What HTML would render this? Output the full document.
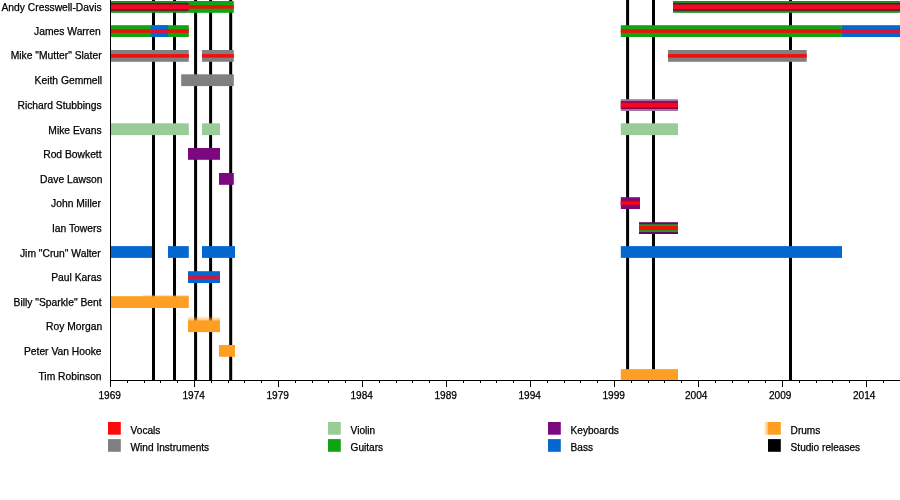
<!DOCTYPE html>
<html lang="en">
<head>
<meta charset="utf-8">
<title>Stackridge timeline</title>
<style>
html,body{margin:0;padding:0;background:#fff;}
svg{display:block;}
text{font-family:"Liberation Sans",Arial,Helvetica,sans-serif;font-size:10.3px;fill:#000;stroke:#000;stroke-width:0.25px;}
.lg{font-size:10.1px;}
.tk{font-size:10.1px;}
</style>
</head>
<body>
<svg width="900" height="500" viewBox="0 0 900 500">
<rect width="900" height="500" fill="#fff"/>
<g fill="#000">
<rect x="152.0" y="0" width="3" height="380.5"/>
<rect x="173.0" y="0" width="3" height="380.5"/>
<rect x="194.1" y="0" width="3" height="380.5"/>
<rect x="209.1" y="0" width="3" height="380.5"/>
<rect x="229.2" y="0" width="3" height="380.5"/>
<rect x="626.1" y="0" width="3" height="380.5"/>
<rect x="652.0" y="0" width="3" height="380.5"/>
<rect x="789.0" y="0" width="3" height="380.5"/>
</g>
<defs>
<linearGradient id="sv" x1="0" y1="0" x2="0" y2="1"><stop offset="0" stop-color="#ffb040" stop-opacity="0"/><stop offset="1" stop-color="#ffa830" stop-opacity="0.75"/></linearGradient>
<linearGradient id="sh" x1="0" y1="0" x2="1" y2="0"><stop offset="0" stop-color="#ffb040" stop-opacity="0"/><stop offset="1" stop-color="#ffa830" stop-opacity="0.8"/></linearGradient>
</defs>
<rect x="188" y="316" width="32" height="4.6" fill="url(#sv)"/>
<rect x="143" y="294.6" width="45.8" height="1.8" fill="url(#sv)"/>
<rect x="763.5" y="422" width="4.7" height="12.7" fill="url(#sh)"/>
<g>
<rect x="110.5" y="1.00" width="78.3" height="11.8" fill="#1f8f22"/>
<rect x="188.8" y="1.00" width="45.0" height="11.8" fill="#0ea412"/>
<rect x="110.5" y="3.00" width="78.3" height="7.8" fill="#5e1628"/>
<rect x="110.5" y="4.50" width="78.7" height="4.8" fill="#fa0426"/>
<rect x="188.8" y="5.15" width="45.0" height="3.5" fill="#ec1208"/>
<rect x="673.0" y="1.00" width="227.0" height="11.8" fill="#1f8f22"/>
<rect x="673.0" y="3.00" width="227.0" height="7.8" fill="#5e1628"/>
<rect x="673.0" y="4.50" width="227.0" height="4.8" fill="#fa0426"/>
<rect x="110.5" y="25.20" width="78.3" height="11.8" fill="#0ea412"/>
<rect x="150.8" y="25.20" width="17.2" height="11.8" fill="#0468d0"/>
<rect x="110.5" y="29.35" width="40.3" height="3.5" fill="#ec1208"/>
<rect x="150.8" y="29.35" width="17.2" height="3.5" fill="#d8143a"/>
<rect x="168.0" y="29.35" width="20.8" height="3.5" fill="#ec1208"/>
<rect x="620.8" y="25.20" width="220.4" height="11.8" fill="#0ea412"/>
<rect x="841.2" y="25.20" width="58.8" height="11.8" fill="#0468d0"/>
<rect x="620.8" y="29.35" width="220.4" height="3.5" fill="#ec1208"/>
<rect x="841.2" y="29.35" width="58.8" height="3.5" fill="#d8143a"/>
<rect x="110.5" y="50.00" width="78.3" height="11.8" fill="#808080"/>
<rect x="110.5" y="54.15" width="78.3" height="3.5" fill="#fa0a0a"/>
<rect x="202.0" y="50.00" width="31.8" height="11.8" fill="#808080"/>
<rect x="202.0" y="54.15" width="31.8" height="3.5" fill="#fa0a0a"/>
<rect x="668.0" y="50.00" width="138.7" height="11.8" fill="#808080"/>
<rect x="668.0" y="54.15" width="138.7" height="3.5" fill="#fa0a0a"/>
<rect x="181.2" y="74.30" width="52.6" height="11.8" fill="#808080"/>
<rect x="620.8" y="99.20" width="57.2" height="11.8" fill="#a173a8"/>
<rect x="620.8" y="101.20" width="57.2" height="7.8" fill="#7a0848"/>
<rect x="620.8" y="102.70" width="57.2" height="4.8" fill="#fa0426"/>
<rect x="110.5" y="123.30" width="78.3" height="11.8" fill="#99cc99"/>
<rect x="202.0" y="123.30" width="18.0" height="11.8" fill="#99cc99"/>
<rect x="620.8" y="123.30" width="57.2" height="11.8" fill="#99cc99"/>
<rect x="188.0" y="148.00" width="32.0" height="11.8" fill="#7c0880"/>
<rect x="219.0" y="173.00" width="14.8" height="11.8" fill="#7c0880"/>
<rect x="620.8" y="197.20" width="19.2" height="11.8" fill="#7c0880"/>
<rect x="620.8" y="200.40" width="19.2" height="5.4" fill="#b0044c"/>
<rect x="620.8" y="201.60" width="19.2" height="3.0" fill="#fa0a0a"/>
<rect x="639.0" y="222.20" width="39.0" height="11.8" fill="#640a58"/>
<rect x="639.0" y="224.20" width="39.0" height="7.8" fill="#14a024"/>
<rect x="639.0" y="226.10" width="39.0" height="4.0" fill="#fa0a0a"/>
<rect x="110.5" y="246.10" width="41.5" height="11.8" fill="#0468d0"/>
<rect x="168.0" y="246.10" width="20.8" height="11.8" fill="#0468d0"/>
<rect x="202.0" y="246.10" width="33.0" height="11.8" fill="#0468d0"/>
<rect x="620.8" y="246.10" width="221.2" height="11.8" fill="#0468d0"/>
<rect x="188.0" y="271.20" width="32.0" height="11.8" fill="#0468d0"/>
<rect x="188.0" y="275.35" width="32.0" height="3.5" fill="#d8143a"/>
<rect x="110.5" y="296.20" width="78.3" height="11.8" fill="#fe9e22"/>
<rect x="188.0" y="320.30" width="32.0" height="11.8" fill="#fe9e22"/>
<rect x="219.0" y="345.00" width="16.0" height="11.8" fill="#fe9e22"/>
<rect x="620.8" y="369.15" width="57.2" height="11.25" fill="#fe9e22"/>
</g>
<g fill="#000" shape-rendering="crispEdges">
<rect x="110" y="0" width="1" height="381"/>
<rect x="110" y="380" width="790" height="1"/>
<rect x="110.0" y="380" width="1" height="6.5"/>
<rect x="126.8" y="380" width="1" height="3"/>
<rect x="143.6" y="380" width="1" height="3"/>
<rect x="160.4" y="380" width="1" height="3"/>
<rect x="177.2" y="380" width="1" height="3"/>
<rect x="194.0" y="380" width="1" height="6.5"/>
<rect x="210.8" y="380" width="1" height="3"/>
<rect x="227.6" y="380" width="1" height="3"/>
<rect x="244.4" y="380" width="1" height="3"/>
<rect x="261.2" y="380" width="1" height="3"/>
<rect x="278.0" y="380" width="1" height="6.5"/>
<rect x="294.8" y="380" width="1" height="3"/>
<rect x="311.6" y="380" width="1" height="3"/>
<rect x="328.4" y="380" width="1" height="3"/>
<rect x="345.2" y="380" width="1" height="3"/>
<rect x="362.0" y="380" width="1" height="6.5"/>
<rect x="378.8" y="380" width="1" height="3"/>
<rect x="395.6" y="380" width="1" height="3"/>
<rect x="412.4" y="380" width="1" height="3"/>
<rect x="429.2" y="380" width="1" height="3"/>
<rect x="446.0" y="380" width="1" height="6.5"/>
<rect x="462.8" y="380" width="1" height="3"/>
<rect x="479.6" y="380" width="1" height="3"/>
<rect x="496.4" y="380" width="1" height="3"/>
<rect x="513.2" y="380" width="1" height="3"/>
<rect x="530.0" y="380" width="1" height="6.5"/>
<rect x="546.8" y="380" width="1" height="3"/>
<rect x="563.6" y="380" width="1" height="3"/>
<rect x="580.4" y="380" width="1" height="3"/>
<rect x="597.2" y="380" width="1" height="3"/>
<rect x="614.0" y="380" width="1" height="6.5"/>
<rect x="630.8" y="380" width="1" height="3"/>
<rect x="647.6" y="380" width="1" height="3"/>
<rect x="664.4" y="380" width="1" height="3"/>
<rect x="681.2" y="380" width="1" height="3"/>
<rect x="698.0" y="380" width="1" height="6.5"/>
<rect x="714.8" y="380" width="1" height="3"/>
<rect x="731.6" y="380" width="1" height="3"/>
<rect x="748.4" y="380" width="1" height="3"/>
<rect x="765.2" y="380" width="1" height="3"/>
<rect x="782.0" y="380" width="1" height="6.5"/>
<rect x="798.8" y="380" width="1" height="3"/>
<rect x="815.6" y="380" width="1" height="3"/>
<rect x="832.4" y="380" width="1" height="3"/>
<rect x="849.2" y="380" width="1" height="3"/>
<rect x="866.0" y="380" width="1" height="6.5"/>
<rect x="882.8" y="380" width="1" height="3"/>
<rect x="899.6" y="380" width="1" height="3"/>
</g>
<g text-anchor="middle">
<text x="109.7" y="399" class="tk">1969</text>
<text x="193.7" y="399" class="tk">1974</text>
<text x="277.7" y="399" class="tk">1979</text>
<text x="361.7" y="399" class="tk">1984</text>
<text x="445.7" y="399" class="tk">1989</text>
<text x="529.7" y="399" class="tk">1994</text>
<text x="613.7" y="399" class="tk">1999</text>
<text x="696.2" y="399" class="tk">2004</text>
<text x="780.2" y="399" class="tk">2009</text>
<text x="864.2" y="399" class="tk">2014</text>
</g>
<g text-anchor="end">
<text x="101.6" y="11">Andy Cresswell-Davis</text>
<text x="100.7" y="35">James Warren</text>
<text x="101.6" y="59">Mike &quot;Mutter&quot; Slater</text>
<text x="102.1" y="84">Keith Gemmell</text>
<text x="101.6" y="109">Richard Stubbings</text>
<text x="101.6" y="134">Mike Evans</text>
<text x="101.6" y="158">Rod Bowkett</text>
<text x="102.5" y="183">Dave Lawson</text>
<text x="100.9" y="207">John Miller</text>
<text x="101.6" y="232">Ian Towers</text>
<text x="100.7" y="257">Jim &quot;Crun&quot; Walter</text>
<text x="101.6" y="281">Paul Karas</text>
<text x="101.6" y="306">Billy &quot;Sparkle&quot; Bent</text>
<text x="102.2" y="330">Roy Morgan</text>
<text x="101.6" y="355">Peter Van Hooke</text>
<text x="101.6" y="380">Tim Robinson</text>
</g>
<g>
<rect x="108" y="422.0" width="12.8" height="12.7" fill="#fa0a0a"/>
<text x="130.6" y="434" class="lg">Vocals</text>
<rect x="108" y="439.1" width="12.8" height="12.7" fill="#808080"/>
<text x="130.6" y="451" class="lg">Wind Instruments</text>
<rect x="328" y="422.0" width="12.8" height="12.7" fill="#99cc99"/>
<text x="350.6" y="434" class="lg">Violin</text>
<rect x="328" y="439.1" width="12.8" height="12.7" fill="#0ea412"/>
<text x="350.6" y="451" class="lg">Guitars</text>
<rect x="548" y="422.0" width="12.8" height="12.7" fill="#7c0880"/>
<text x="570.6" y="434" class="lg">Keyboards</text>
<rect x="548" y="439.1" width="12.8" height="12.7" fill="#0468d0"/>
<text x="570.6" y="451" class="lg">Bass</text>
<rect x="768" y="422.0" width="12.8" height="12.7" fill="#fe9e22"/>
<text x="790.6" y="434" class="lg">Drums</text>
<rect x="768" y="439.1" width="12.8" height="12.7" fill="#000"/>
<text x="790.6" y="451" class="lg">Studio releases</text>
</g>
</svg>
</body>
</html>
